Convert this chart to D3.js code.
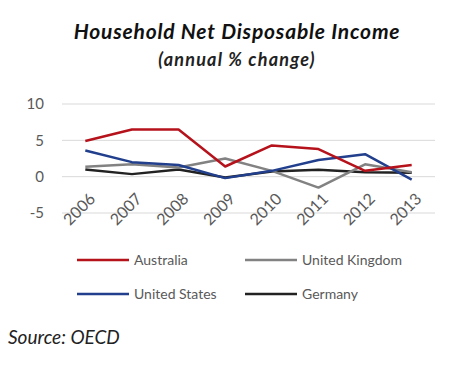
<!DOCTYPE html>
<html>
<head>
<meta charset="utf-8">
<script src="https://cdn.jsdelivr.net/npm/d3@7"></script>
<style>
  body { margin: 0; background: #fff; }
  text { font-family: Lato, "Open Sans", sans-serif; }
</style>
</head>
<body>
<div id="chart"></div>
<script>
var years = ["2006", "2007", "2008", "2009", "2010", "2011", "2012", "2013"];
var australia = [4.9, 6.5, 6.5, 1.4, 4.3, 3.8, 0.8, 1.6];
var unitedKingdom = [1.35, 1.7, 1.25, 2.5, 0.8, -1.5, 1.7, 0.6];
var unitedStates = [3.6, 2.0, 1.6, -0.2, 0.8, 2.3, 3.1, -0.4];
var germany = [1.0, 0.35, 1.0, -0.1, 0.7, 0.95, 0.6, 0.55];
var yTicks = [-5, 0, 5, 10];

var seriesNames = ["Australia", "United Kingdom", "United States", "Germany"];
var seriesValues = [australia, unitedKingdom, unitedStates, germany];
var colors = ["#b5121b", "#828282", "#213f8c", "#222222"];

var width = 450, height = 369;

var svg = d3.select("#chart").append("svg")
    .attr("width", width)
    .attr("height", height);

var x = d3.scalePoint()
    .domain(years)
    .range([62, 435])
    .padding(0.5);

var y = d3.scaleLinear()
    .domain([-5, 10])
    .range([213, 104]);

// title
svg.append("text")
    .attr("x", 237).attr("y", 39)
    .attr("text-anchor", "middle")
    .style("font-size", "21px")
    .style("font-weight", "bold")
    .style("font-style", "italic")
    .style("letter-spacing", "0.8px")
    .style("fill", "#111")
    .text("Household Net Disposable Income");

svg.append("text")
    .attr("x", 237).attr("y", 66)
    .attr("text-anchor", "middle")
    .style("font-size", "18px")
    .style("font-weight", "bold")
    .style("font-style", "italic")
    .style("letter-spacing", "1.2px")
    .style("fill", "#222")
    .text("(annual % change)");

// gridlines
svg.append("g")
  .selectAll("line")
  .data(yTicks)
  .enter().append("line")
    .attr("x1", 62).attr("x2", 435)
    .attr("y1", function(d) { return y(d); })
    .attr("y2", function(d) { return y(d); })
    .style("stroke", "#d9d9d9")
    .style("stroke-width", 1);

// y labels
svg.append("g")
  .selectAll("text")
  .data(yTicks)
  .enter().append("text")
    .attr("x", 44)
    .attr("y", function(d) { return y(d); })
    .attr("dy", ".35em")
    .attr("text-anchor", "end")
    .style("font-size", "15px")
    .style("fill", "#595959")
    .text(function(d) { return d; });

// x labels
svg.append("g")
  .selectAll("text")
  .data(years)
  .enter().append("text")
    .attr("text-anchor", "end")
    .attr("transform", function(d) { return "translate(" + (x(d) + 7) + ",196) rotate(-45)"; })
    .attr("dy", ".35em")
    .style("font-size", "16px")
    .style("fill", "#595959")
    .text(function(d) { return d; });

var line = d3.line()
    .x(function(d, i) { return x(years[i]); })
    .y(function(d) { return y(d); });

// draw order: germany, uk, us, australia on top
var order = [3, 1, 2, 0];
svg.append("g")
  .selectAll("path")
  .data(order)
  .enter().append("path")
    .attr("d", function(k) { return line(seriesValues[k]); })
    .style("fill", "none")
    .style("stroke", function(k) { return colors[k]; })
    .style("stroke-width", 2.5)
    .style("stroke-linejoin", "round");

// legend
var legend = svg.append("g")
  .selectAll("g")
  .data(seriesNames)
  .enter().append("g")
    .attr("transform", function(d, i) {
      return "translate(" + (i % 2 === 0 ? 77 : 245) + "," + (i < 2 ? 260 : 294) + ")";
    });

legend.append("line")
    .attr("x1", 0).attr("x2", 52)
    .style("stroke", function(d, i) { return colors[i]; })
    .style("stroke-width", 2.5);

legend.append("text")
    .attr("x", 57)
    .attr("dy", ".35em")
    .style("font-size", "14px")
    .style("fill", "#595959")
    .text(function(d) { return d; });

// source
svg.append("text")
    .attr("x", 8).attr("y", 344)
    .style("font-size", "19px")
    .style("font-style", "italic")
    .style("fill", "#222")
    .text("Source: OECD");
</script>
</body>
</html>
